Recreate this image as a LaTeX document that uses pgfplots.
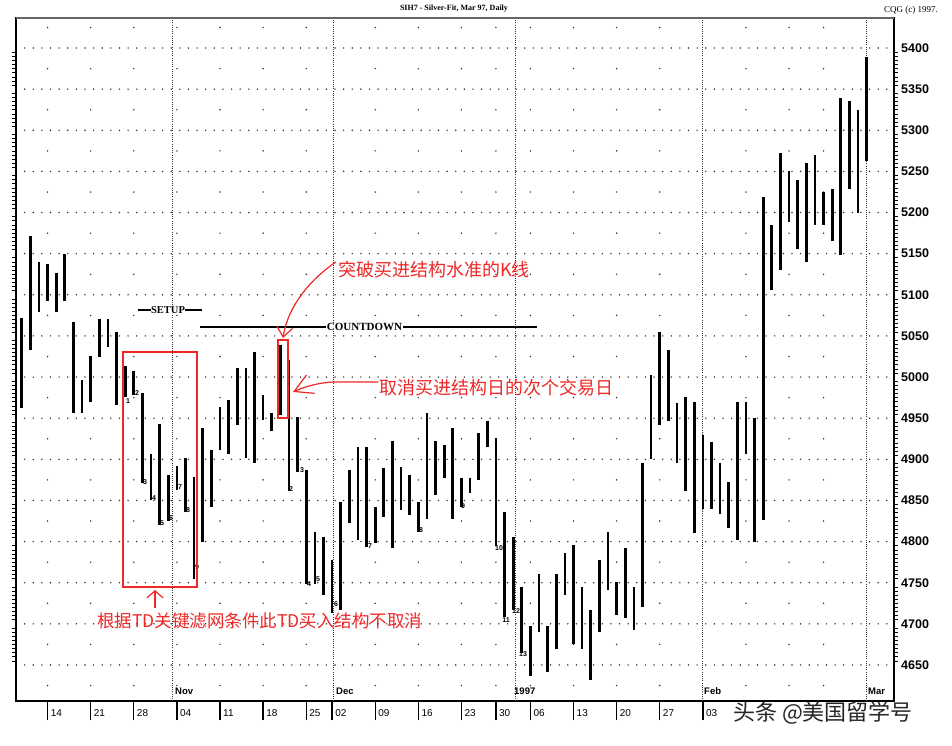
\documentclass[border=0pt]{standalone}
\usepackage{fontspec}
\setmainfont{Liberation Sans}
\newfontfamily\tnr{Liberation Serif}
\newfontfamily\cjk{Noto Sans CJK SC}
\usepackage{pgfplots}
\usepackage{pgfplotstable}
\pgfplotsset{compat=1.18}
\usetikzlibrary{arrows.meta}
\definecolor{annred}{RGB}{238,40,40}
\definecolor{dotc}{RGB}{45,45,45}

% daily bars: trading-day index, high, low
\pgfplotstableread{
i h l
1 5072 4962
2 5171 5033
3 5140 5079
4 5137 5092
5 5126 5079
6 5150 5092
7 5067 4956
8 4996 4956
9 5026 4970
10 5071 5025
11 5071 5037
12 5055 4966
13 5013 4976
14 5007 4978
15 4981 4871
16 4907 4850
17 4943 4820
18 4881 4825
19 4892 4863
20 4902 4836
21 4879 4755
22 4938 4800
23 4911 4842
24 4963 4911
25 4972 4907
26 5011 4942
27 5011 4901
28 5031 4896
29 4978 4948
30 4956 4934
31 5039 4954
32 5021 4861
33 4952 4885
34 4887 4749
35 4812 4749
36 4806 4735
37 4778 4713
38 4848 4717
39 4887 4822
40 4915 4802
41 4915 4794
42 4842 4798
43 4890 4830
44 4922 4792
45 4891 4838
46 4881 4832
47 4848 4812
48 4956 4828
49 4922 4857
50 4917 4877
51 4938 4828
52 4877 4842
53 4877 4859
54 4932 4875
55 4946 4915
56 4926 4795
57 4836 4708
58 4806 4717
59 4745 4664
60 4697 4636
61 4761 4690
62 4697 4642
63 4761 4670
64 4786 4735
65 4796 4676
66 4745 4670
67 4717 4632
68 4778 4690
69 4812 4741
70 4751 4711
71 4792 4707
72 4745 4692
73 4895 4721
74 5002 4901
75 5055 4942
76 5033 4946
77 4968 4895
78 4976 4861
79 4970 4810
80 4930 4840
81 4921 4840
82 4895 4834
83 4873 4816
84 4970 4802
85 4970 4907
86 4950 4800
87 5219 4826
88 5185 5106
89 5272 5130
90 5250 5189
91 5240 5156
92 5260 5140
93 5270 5185
94 5225 5185
95 5229 5165
96 5339 5148
97 5335 5229
98 5325 5199
99 5389 5263
}\bars

\begin{document}
\begin{tikzpicture}
\useasboundingbox (0,0) rectangle (952pt,745pt);
\fill[white] (0,0) rectangle (952pt,745pt);
\begin{axis}[
  at={(16pt,44pt)}, anchor=south west, scale only axis,
  width=878pt, height=683pt,
  xmin=0.339, xmax=102.17, ymin=4606.2, ymax=5436.5,
  axis line style={line width=1.3pt, black},
  tick align=outside,
  xtick pos=left,
  ytick pos=both, yticklabel pos=right,
  xtick={4,9,14,19,24,29,34,37,42,47,52,56,60,65,70,75,80},
  xticklabels={14,21,28,04,11,18,25,02,09,16,23,30,06,13,20,27,03},
  major tick length=19pt, minor tick length=4pt,
  major x tick style={line width=1.3pt, black},
  major y tick style={draw=none},
  minor y tick num=9, minor y tick style={line width=0.6pt, black},
  ytick={4650,4700,...,5400},
  scaled y ticks=false,
  /pgf/number format/1000 sep={},
  /pgf/number format/assume math mode=true,
  yticklabel style={font=\bfseries\fontsize{12.5pt}{14pt}\selectfont, inner sep=0pt, xshift=-12pt},
  xticklabel style={font=\fontsize{10pt}{12pt}\selectfont, anchor=north west, inner sep=0pt, xshift=3pt, yshift=11pt},
  ymajorgrids,
  major grid style={line width=1.6pt, line cap=round, dash pattern=on 0pt off 8.622pt, dotc},
]
% weekly dots on the half-levels
\pgfplotsinvokeforeach{4,9,14,19,24,29,34,42,47,52,56,60,65,70,75,85,90,94}{
  \draw[line width=1.6pt, line cap=round, dash pattern=on 0pt off 41.125pt, dotc]
    (axis cs:#1,4625) -- (axis cs:#1,5426);
}
% month dividers
\pgfplotsinvokeforeach{18.5,37.1,58.3,80,99}{
  \draw[line width=0.9pt, dash pattern=on 0.9pt off 1.3pt, black!80]
    (axis cs:#1,4606.2) -- (axis cs:#1,5436.5);
}
\addplot[draw=none, mark=none,
  error bars/.cd, y dir=both, y explicit, error mark=none,
  error bar style={draw=black, line width=2.7pt}]
  table[x=i, y expr={(\thisrow{h}+\thisrow{l})/2}, y error expr={(\thisrow{h}-\thisrow{l})/2}] {\bars};
\end{axis}

\begin{scope}[x=1pt, y=-1pt, yshift=745pt]
% top border emphasis
\draw[line width=2.2pt, black!60] (16,18) -- (894,18);
% titles
\node[font=\tnr\bfseries\fontsize{8pt}{9pt}\selectfont, inner sep=0pt] at (454,9) {SIH7 - Silver-Fit, Mar 97, Daily};
\node[font=\tnr\fontsize{9pt}{10pt}\selectfont, inner sep=0pt, anchor=east] at (938,10) {CQG (c) 1997.};
% month labels
\foreach \xx/\tt in {175/Nov,336/Dec,514/1997,704/Feb,868/Mar}
  \node[font=\bfseries\fontsize{9.5pt}{11pt}\selectfont, inner sep=0pt, anchor=west] at (\xx,691) {\tt};
% SETUP / COUNTDOWN
\draw[line width=1.3pt] (138,310) -- (202,310);
\node[font=\tnr\bfseries\fontsize{10.5pt}{12pt}\selectfont, fill=white, inner sep=0.5pt] at (168,310) {SETUP};
\draw[line width=1.3pt] (200,327) -- (537,327);
\node[font=\tnr\bfseries\fontsize{11pt}{12pt}\selectfont, fill=white, inner sep=0.5pt] at (364.5,327) {COUNTDOWN};
% small count numbers
\foreach \xx/\yy/\tt in {128/401/1,137/393/2,145/482/3,154/498/4,162/523/5,171/518/6,180/487/7,188/510/8,197/567/9,
  291/489/2,302/470/3,309/584/4,318/579/5,336/604/6,370/546/7,421/530/8,463/506/9,499/548/10,506/620/11,516/611/12,523/654/13}
  \node[font=\bfseries\fontsize{7pt}{8pt}\selectfont, inner sep=0pt] at (\xx,\yy) {\tt};
% red annotations
\draw[annred, line width=1.6pt] (123,352) rectangle (197,587);
\draw[annred, line width=1.6pt] (278,340) rectangle (288,418);
\draw[annred, line width=1.2pt, -{Straight Barb[length=7pt,width=16pt]}] (155,608) -- (155,590);
\node[annred, font=\cjk\fontsize{17.5pt}{19pt}\selectfont, inner sep=0pt, anchor=west] at (97,621) {根据TD关键滤网条件此TD买入结构不取消};
\node[annred, font=\cjk\fontsize{18pt}{20pt}\selectfont, inner sep=0pt, anchor=west] at (338,270) {突破买进结构水准的K线};
\draw[annred, line width=1.2pt, -{Straight Barb[length=10pt,width=16pt]}] (336,262) .. controls (312,278) and (288,305) .. (283,338);
\node[annred, font=\cjk\fontsize{18pt}{20pt}\selectfont, inner sep=0pt, anchor=west] at (379,388) {取消买进结构日的次个交易日};
\draw[annred, line width=1.2pt, -{Straight Barb[length=18pt,width=20pt]}] (378,382) -- (333,382) .. controls (315,383) and (302,388) .. (293,392);
% watermark
\node[font=\cjk\fontsize{22pt}{24pt}\selectfont, inner sep=0pt, anchor=west, text=black!85] at (733,713) {头条 @美国留学号};
\end{scope}
\end{tikzpicture}
\end{document}
